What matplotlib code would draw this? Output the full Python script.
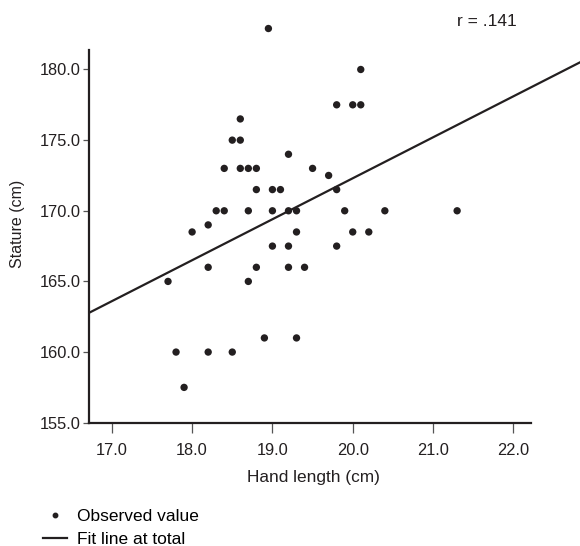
import matplotlib
matplotlib.use('Agg')
import matplotlib.pyplot as plt
from matplotlib.lines import Line2D
import numpy as np

plt.rcParams['font.family'] = ['Liberation Sans', 'DejaVu Sans']

# hand length (cm) and stature (cm)
hand_length = [18.95, 18.6, 18.5, 18.6, 19.2, 18.4, 18.6, 18.7, 18.8, 19.5,
               19.7, 18.8, 19.0, 19.1, 18.3, 18.4, 18.7, 19.0, 19.2, 19.3,
               20.1, 19.8, 20.0, 20.1, 19.8, 19.9, 20.4, 21.3, 20.0, 20.2,
               19.8, 19.4, 18.2, 18.0, 19.3, 19.0, 19.2, 18.2, 18.8, 19.2,
               17.7, 18.7, 18.9, 19.3, 17.8, 18.2, 18.5, 17.9]
stature = [182.9, 176.5, 175.0, 175.0, 174.0, 173.0, 173.0, 173.0, 173.0, 173.0,
           172.5, 171.5, 171.5, 171.5, 170.0, 170.0, 170.0, 170.0, 170.0, 170.0,
           180.0, 177.5, 177.5, 177.5, 171.5, 170.0, 170.0, 170.0, 168.5, 168.5,
           167.5, 166.0, 169.0, 168.5, 168.5, 167.5, 167.5, 166.0, 166.0, 166.0,
           165.0, 165.0, 161.0, 161.0, 160.0, 160.0, 160.0, 157.5]

# fit line at total
fit_intercept = 114.3
fit_slope = 2.90
r_text = 'r = .141'

x_ticks = [17.0, 18.0, 19.0, 20.0, 21.0, 22.0]
y_ticks = [155.0, 160.0, 165.0, 170.0, 175.0, 180.0]

ink = '#231f20'

fig = plt.figure(figsize=(5.8, 5.46), dpi=100)
ax = fig.add_axes([0.154, 0.2258, 0.846, 0.7375])
ax.set_xlim(16.72, 22.83)
ax.set_ylim(155.0, 183.5)

xs = np.array(ax.get_xlim())
ax.plot(xs, fit_intercept + fit_slope * xs, color=ink, lw=1.6, zorder=2)
ax.scatter(hand_length, stature, s=28, color=ink, edgecolors='none', zorder=3, clip_on=False)

for side in ['top', 'right']:
    ax.spines[side].set_visible(False)
ax.spines['left'].set_bounds(155.0, 181.4)
ax.spines['bottom'].set_bounds(16.72, 22.22)
for side in ['left', 'bottom']:
    ax.spines[side].set_linewidth(1.6)
    ax.spines[side].set_color(ink)

ax.set_xticks(x_ticks)
ax.set_xticklabels([f'{v:.1f}' for v in x_ticks])
ax.set_yticks(y_ticks)
ax.set_yticklabels([f'{v:.1f}' for v in y_ticks])
ax.tick_params(axis='x', length=7, width=0.9, color='#555555', pad=7.5, labelsize=11.8, labelcolor=ink)
ax.tick_params(axis='y', length=4, width=0.9, color='#555555', pad=2.5, labelsize=11.8, labelcolor=ink)

ax.set_xlabel('Hand length (cm)', fontsize=12.4, color=ink)
ax.xaxis.set_label_coords(0.456, -0.118)
ax.set_ylabel('Stature (cm)', fontsize=11.5, color=ink)
ax.yaxis.set_label_coords(-0.131, 0.493)

fig.text(487 / 580, 1 - 21.5 / 546, r_text, fontsize=12.5, color=ink, ha='center', va='center')

handles = [Line2D([], [], marker='o', ls='', markersize=3.2, color=ink),
           Line2D([], [], color=ink, lw=1.6)]
fig.legend(handles, ['Observed value', 'Fit line at total'], loc='upper left',
           bbox_to_anchor=(0.0626, 1 - 502 / 546), frameon=False, fontsize=12.5,
           handlelength=1.35, handletextpad=0.57, labelspacing=0.43, borderaxespad=0)

fig.savefig('out.png', dpi=100)
